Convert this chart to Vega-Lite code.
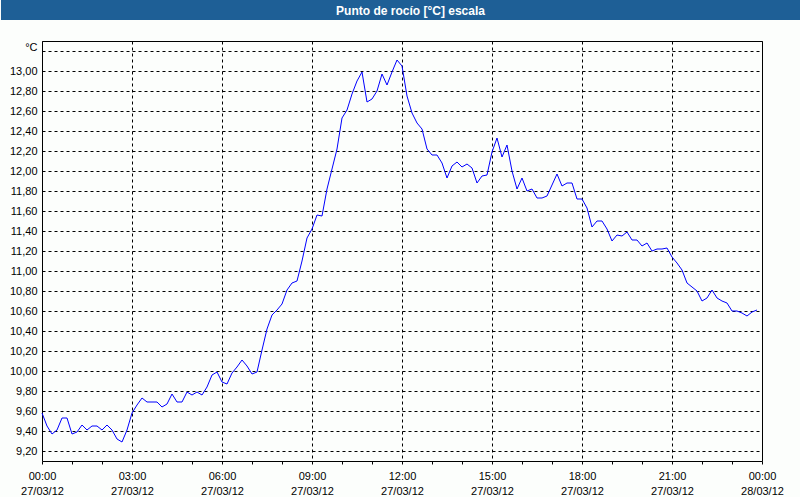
{
  "$schema": "https://vega.github.io/schema/vega-lite/v6.json",
  "background": "#fcfefc",
  "padding": 0,
  "spacing": 20,
  "config": {"view": {"stroke": null}},
  "vconcat": [
    {
      "width": 759,
      "height": 20,
      "view": {"fill": "#1e5f96", "stroke": null},
      "data": {"values": [{"title": "Punto de rocío [°C] escala"}]},
      "mark": {"type": "text", "color": "white", "font": "Liberation Sans", "fontSize": 12, "fontWeight": "bold", "baseline": "middle", "dx": -11, "dy": 1},
      "encoding": {
        "text": {"field": "title", "type": "nominal"},
        "y": {
          "field": "title",
          "type": "nominal",
          "axis": {"title": null, "labels": false, "ticks": false, "grid": false, "domain": true, "domainColor": "#1e5f96", "domainWidth": 82, "translate": 0, "minExtent": 41, "maxExtent": 41}
        }
      }
    },
    {
      "width": 720,
      "height": 420,
      "view": {"stroke": "black", "strokeWidth": 1},
      "data": {"values": [
        {"time": "2012-03-27T00:00", "dewpoint": 9.58},
        {"time": "2012-03-27T00:10", "dewpoint": 9.45},
        {"time": "2012-03-27T00:20", "dewpoint": 9.37},
        {"time": "2012-03-27T00:30", "dewpoint": 9.41},
        {"time": "2012-03-27T00:40", "dewpoint": 9.53},
        {"time": "2012-03-27T00:50", "dewpoint": 9.53},
        {"time": "2012-03-27T01:00", "dewpoint": 9.37},
        {"time": "2012-03-27T01:10", "dewpoint": 9.39},
        {"time": "2012-03-27T01:20", "dewpoint": 9.46},
        {"time": "2012-03-27T01:30", "dewpoint": 9.41},
        {"time": "2012-03-27T01:40", "dewpoint": 9.45},
        {"time": "2012-03-27T01:50", "dewpoint": 9.45},
        {"time": "2012-03-27T02:00", "dewpoint": 9.41},
        {"time": "2012-03-27T02:10", "dewpoint": 9.46},
        {"time": "2012-03-27T02:20", "dewpoint": 9.41},
        {"time": "2012-03-27T02:30", "dewpoint": 9.32},
        {"time": "2012-03-27T02:40", "dewpoint": 9.29},
        {"time": "2012-03-27T02:50", "dewpoint": 9.41},
        {"time": "2012-03-27T03:00", "dewpoint": 9.58},
        {"time": "2012-03-27T03:10", "dewpoint": 9.66},
        {"time": "2012-03-27T03:20", "dewpoint": 9.73},
        {"time": "2012-03-27T03:30", "dewpoint": 9.69},
        {"time": "2012-03-27T03:40", "dewpoint": 9.69},
        {"time": "2012-03-27T03:50", "dewpoint": 9.69},
        {"time": "2012-03-27T04:00", "dewpoint": 9.64},
        {"time": "2012-03-27T04:10", "dewpoint": 9.67},
        {"time": "2012-03-27T04:20", "dewpoint": 9.77},
        {"time": "2012-03-27T04:30", "dewpoint": 9.69},
        {"time": "2012-03-27T04:40", "dewpoint": 9.69},
        {"time": "2012-03-27T04:50", "dewpoint": 9.79},
        {"time": "2012-03-27T05:00", "dewpoint": 9.76},
        {"time": "2012-03-27T05:10", "dewpoint": 9.79},
        {"time": "2012-03-27T05:20", "dewpoint": 9.76},
        {"time": "2012-03-27T05:30", "dewpoint": 9.84},
        {"time": "2012-03-27T05:40", "dewpoint": 9.96},
        {"time": "2012-03-27T05:50", "dewpoint": 9.99},
        {"time": "2012-03-27T06:00", "dewpoint": 9.89},
        {"time": "2012-03-27T06:10", "dewpoint": 9.87},
        {"time": "2012-03-27T06:20", "dewpoint": 9.98},
        {"time": "2012-03-27T06:30", "dewpoint": 10.04},
        {"time": "2012-03-27T06:40", "dewpoint": 10.11},
        {"time": "2012-03-27T06:50", "dewpoint": 10.05},
        {"time": "2012-03-27T07:00", "dewpoint": 9.97},
        {"time": "2012-03-27T07:10", "dewpoint": 9.99},
        {"time": "2012-03-27T07:20", "dewpoint": 10.21},
        {"time": "2012-03-27T07:30", "dewpoint": 10.42},
        {"time": "2012-03-27T07:40", "dewpoint": 10.56},
        {"time": "2012-03-27T07:50", "dewpoint": 10.61},
        {"time": "2012-03-27T08:00", "dewpoint": 10.67},
        {"time": "2012-03-27T08:10", "dewpoint": 10.81},
        {"time": "2012-03-27T08:20", "dewpoint": 10.88},
        {"time": "2012-03-27T08:30", "dewpoint": 10.90},
        {"time": "2012-03-27T08:40", "dewpoint": 11.10},
        {"time": "2012-03-27T08:50", "dewpoint": 11.33},
        {"time": "2012-03-27T09:00", "dewpoint": 11.42},
        {"time": "2012-03-27T09:10", "dewpoint": 11.56},
        {"time": "2012-03-27T09:20", "dewpoint": 11.55},
        {"time": "2012-03-27T09:30", "dewpoint": 11.82},
        {"time": "2012-03-27T09:40", "dewpoint": 12.02},
        {"time": "2012-03-27T09:50", "dewpoint": 12.22},
        {"time": "2012-03-27T10:00", "dewpoint": 12.53},
        {"time": "2012-03-27T10:10", "dewpoint": 12.61},
        {"time": "2012-03-27T10:20", "dewpoint": 12.77},
        {"time": "2012-03-27T10:30", "dewpoint": 12.90},
        {"time": "2012-03-27T10:40", "dewpoint": 12.99},
        {"time": "2012-03-27T10:50", "dewpoint": 12.69},
        {"time": "2012-03-27T11:00", "dewpoint": 12.72},
        {"time": "2012-03-27T11:10", "dewpoint": 12.80},
        {"time": "2012-03-27T11:20", "dewpoint": 12.97},
        {"time": "2012-03-27T11:30", "dewpoint": 12.86},
        {"time": "2012-03-27T11:40", "dewpoint": 12.99},
        {"time": "2012-03-27T11:50", "dewpoint": 13.11},
        {"time": "2012-03-27T12:00", "dewpoint": 13.05},
        {"time": "2012-03-27T12:10", "dewpoint": 12.75},
        {"time": "2012-03-27T12:20", "dewpoint": 12.58},
        {"time": "2012-03-27T12:30", "dewpoint": 12.48},
        {"time": "2012-03-27T12:40", "dewpoint": 12.42},
        {"time": "2012-03-27T12:50", "dewpoint": 12.22},
        {"time": "2012-03-27T13:00", "dewpoint": 12.16},
        {"time": "2012-03-27T13:10", "dewpoint": 12.16},
        {"time": "2012-03-27T13:20", "dewpoint": 12.08},
        {"time": "2012-03-27T13:30", "dewpoint": 11.93},
        {"time": "2012-03-27T13:40", "dewpoint": 12.05},
        {"time": "2012-03-27T13:50", "dewpoint": 12.09},
        {"time": "2012-03-27T14:00", "dewpoint": 12.04},
        {"time": "2012-03-27T14:10", "dewpoint": 12.07},
        {"time": "2012-03-27T14:20", "dewpoint": 12.03},
        {"time": "2012-03-27T14:30", "dewpoint": 11.88},
        {"time": "2012-03-27T14:40", "dewpoint": 11.95},
        {"time": "2012-03-27T14:50", "dewpoint": 11.96},
        {"time": "2012-03-27T15:00", "dewpoint": 12.19},
        {"time": "2012-03-27T15:10", "dewpoint": 12.33},
        {"time": "2012-03-27T15:20", "dewpoint": 12.14},
        {"time": "2012-03-27T15:30", "dewpoint": 12.26},
        {"time": "2012-03-27T15:40", "dewpoint": 12.00},
        {"time": "2012-03-27T15:50", "dewpoint": 11.82},
        {"time": "2012-03-27T16:00", "dewpoint": 11.93},
        {"time": "2012-03-27T16:10", "dewpoint": 11.80},
        {"time": "2012-03-27T16:20", "dewpoint": 11.82},
        {"time": "2012-03-27T16:30", "dewpoint": 11.73},
        {"time": "2012-03-27T16:40", "dewpoint": 11.73},
        {"time": "2012-03-27T16:50", "dewpoint": 11.75},
        {"time": "2012-03-27T17:00", "dewpoint": 11.86},
        {"time": "2012-03-27T17:10", "dewpoint": 11.97},
        {"time": "2012-03-27T17:20", "dewpoint": 11.85},
        {"time": "2012-03-27T17:30", "dewpoint": 11.88},
        {"time": "2012-03-27T17:40", "dewpoint": 11.88},
        {"time": "2012-03-27T17:50", "dewpoint": 11.72},
        {"time": "2012-03-27T18:00", "dewpoint": 11.72},
        {"time": "2012-03-27T18:10", "dewpoint": 11.63},
        {"time": "2012-03-27T18:20", "dewpoint": 11.44},
        {"time": "2012-03-27T18:30", "dewpoint": 11.50},
        {"time": "2012-03-27T18:40", "dewpoint": 11.50},
        {"time": "2012-03-27T18:50", "dewpoint": 11.42},
        {"time": "2012-03-27T19:00", "dewpoint": 11.30},
        {"time": "2012-03-27T19:10", "dewpoint": 11.36},
        {"time": "2012-03-27T19:20", "dewpoint": 11.35},
        {"time": "2012-03-27T19:30", "dewpoint": 11.39},
        {"time": "2012-03-27T19:40", "dewpoint": 11.31},
        {"time": "2012-03-27T19:50", "dewpoint": 11.31},
        {"time": "2012-03-27T20:00", "dewpoint": 11.25},
        {"time": "2012-03-27T20:10", "dewpoint": 11.28},
        {"time": "2012-03-27T20:20", "dewpoint": 11.20},
        {"time": "2012-03-27T20:30", "dewpoint": 11.22},
        {"time": "2012-03-27T20:40", "dewpoint": 11.22},
        {"time": "2012-03-27T20:50", "dewpoint": 11.23},
        {"time": "2012-03-27T21:00", "dewpoint": 11.14},
        {"time": "2012-03-27T21:10", "dewpoint": 11.08},
        {"time": "2012-03-27T21:20", "dewpoint": 11.01},
        {"time": "2012-03-27T21:30", "dewpoint": 10.88},
        {"time": "2012-03-27T21:40", "dewpoint": 10.84},
        {"time": "2012-03-27T21:50", "dewpoint": 10.80},
        {"time": "2012-03-27T22:00", "dewpoint": 10.70},
        {"time": "2012-03-27T22:10", "dewpoint": 10.73},
        {"time": "2012-03-27T22:20", "dewpoint": 10.81},
        {"time": "2012-03-27T22:30", "dewpoint": 10.73},
        {"time": "2012-03-27T22:40", "dewpoint": 10.70},
        {"time": "2012-03-27T22:50", "dewpoint": 10.68},
        {"time": "2012-03-27T23:00", "dewpoint": 10.60},
        {"time": "2012-03-27T23:10", "dewpoint": 10.60},
        {"time": "2012-03-27T23:20", "dewpoint": 10.58},
        {"time": "2012-03-27T23:30", "dewpoint": 10.55},
        {"time": "2012-03-27T23:40", "dewpoint": 10.59},
        {"time": "2012-03-27T23:50", "dewpoint": 10.61}
      ]},
      "mark": {"type": "line", "color": "#0000ff", "strokeWidth": 1},
      "encoding": {
        "x": {
          "field": "time",
          "type": "temporal",
          "scale": {"domain": [{"year": 2012, "month": 3, "date": 27, "hours": 0}, {"year": 2012, "month": 3, "date": 28, "hours": 0}], "nice": false},
          "axis": {
            "title": null,
            "values": [
              {"year": 2012, "month": 3, "date": 27, "hours": 0},
              {"year": 2012, "month": 3, "date": 27, "hours": 1},
              {"year": 2012, "month": 3, "date": 27, "hours": 2},
              {"year": 2012, "month": 3, "date": 27, "hours": 3},
              {"year": 2012, "month": 3, "date": 27, "hours": 4},
              {"year": 2012, "month": 3, "date": 27, "hours": 5},
              {"year": 2012, "month": 3, "date": 27, "hours": 6},
              {"year": 2012, "month": 3, "date": 27, "hours": 7},
              {"year": 2012, "month": 3, "date": 27, "hours": 8},
              {"year": 2012, "month": 3, "date": 27, "hours": 9},
              {"year": 2012, "month": 3, "date": 27, "hours": 10},
              {"year": 2012, "month": 3, "date": 27, "hours": 11},
              {"year": 2012, "month": 3, "date": 27, "hours": 12},
              {"year": 2012, "month": 3, "date": 27, "hours": 13},
              {"year": 2012, "month": 3, "date": 27, "hours": 14},
              {"year": 2012, "month": 3, "date": 27, "hours": 15},
              {"year": 2012, "month": 3, "date": 27, "hours": 16},
              {"year": 2012, "month": 3, "date": 27, "hours": 17},
              {"year": 2012, "month": 3, "date": 27, "hours": 18},
              {"year": 2012, "month": 3, "date": 27, "hours": 19},
              {"year": 2012, "month": 3, "date": 27, "hours": 20},
              {"year": 2012, "month": 3, "date": 27, "hours": 21},
              {"year": 2012, "month": 3, "date": 27, "hours": 22},
              {"year": 2012, "month": 3, "date": 27, "hours": 23},
              {"year": 2012, "month": 3, "date": 28, "hours": 0}
            ],
            "labelExpr": "hours(datum.value) % 3 == 0 ? [timeFormat(datum.value, '%H:%M'), timeFormat(datum.value, '%d/%m/%y')] : ''",
            "labelFont": "Liberation Sans",
            "labelFontSize": 11,
            "labelColor": "#000000",
            "labelLineHeight": 15,
            "labelPadding": 6,
            "labelOverlap": false,
            "labelFlush": false,
            "labelBound": false,
            "domain": false,
            "tickSize": 3,
            "tickColor": "#000000",
            "tickWidth": 1,
            "grid": true,
            "gridColor": "#000000",
            "gridDash": [3, 3],
            "gridWidth": 1,
            "gridOpacity": {"condition": {"test": "hours(datum.value) % 3 == 0", "value": 1}, "value": 0}
          }
        },
        "y": {
          "field": "dewpoint",
          "type": "quantitative",
          "scale": {"domain": [9.1, 13.3], "nice": false, "zero": false},
          "axis": {
            "title": null,
            "values": [9.2, 9.4, 9.6, 9.8, 10.0, 10.2, 10.4, 10.6, 10.8, 11.0, 11.2, 11.4, 11.6, 11.8, 12.0, 12.2, 12.4, 12.6, 12.8, 13.0, 13.2],
            "labelExpr": "datum.value > 13.1 ? '°C' : replace(format(datum.value, '.2f'), '.', ',')",
            "labelOffset": {"condition": {"test": "datum.value > 13.1", "value": -4}, "value": 0},
            "labelFont": "Liberation Sans",
            "labelFontSize": 11,
            "labelColor": "#000000",
            "labelPadding": 5,
            "labelOverlap": false,
            "labelBound": false,
            "minExtent": 41,
            "maxExtent": 41,
            "domain": false,
            "ticks": false,
            "grid": true,
            "gridColor": "#000000",
            "gridDash": [3, 3],
            "gridWidth": 1
          }
        }
      }
    }
  ]
}
